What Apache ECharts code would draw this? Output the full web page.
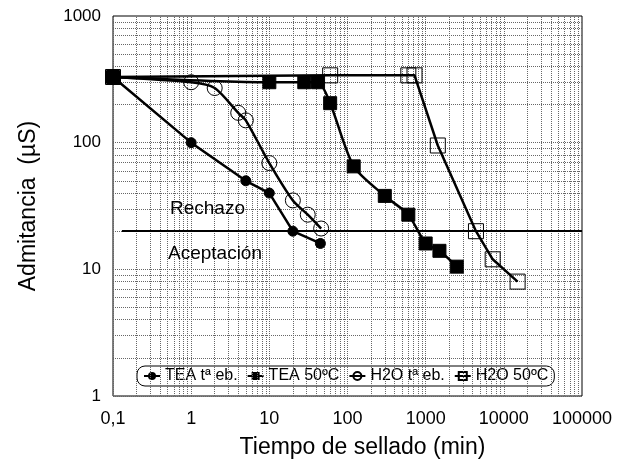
<!DOCTYPE html>
<html>
<head>
<meta charset="utf-8">
<script src="https://cdn.jsdelivr.net/npm/echarts@6/dist/echarts.min.js"></script>
<style>
  html, body { margin: 0; background: #fff; }
  #chart { width: 629px; height: 465px; }
</style>
</head>
<body>
<div id="chart"></div>
<script>
// datos (tiempo en min, admitancia en µS)
const teaAmbX = [0.1, 1, 5, 10, 20, 45];
const teaAmbY = [330, 100, 50, 40, 20, 16];

const tea50X = [0.1, 10, 28, 42, 60, 120, 300, 600, 1000, 1500, 2500];
const tea50Y = [330, 300, 300, 300, 205, 65, 38, 27, 16, 14, 10.5];

const h2oAmbX = [0.1, 1, 2, 4, 5, 10, 20, 31, 46];
const h2oAmbY = [330, 300, 270, 172, 150, 69, 35, 27, 21];

const h2o50X = [0.1, 60, 600, 720, 1430, 4400, 7200, 15000];
const h2o50Y = [330, 340, 340, 340, 95, 20, 12, 8];

const seriesNames = ['TEA tª eb.', 'TEA 50ºC', 'H2O tª eb.', 'H2O 50ºC'];
const limite = 20;
const xTicks = [0.1, 1, 10, 100, 1000, 10000, 100000];
const yTicks = [1, 10, 100, 1000];

const font = 'Liberation Sans, Arial, sans-serif';

const pairs = (xs, ys) => xs.map((x, i) => [x, ys[i]]);

// lineas de rejilla menores (2..9 en cada década)
const gridLines = [];
xTicks.slice(0, -1).forEach(d => {
    for (let k = 1; k <= 9; k++) gridLines.push({ xAxis: d * k });
});
yTicks.slice(0, -1).forEach(d => {
    for (let k = 1; k <= 9; k++) gridLines.push({ yAxis: d * k });
});

const chart = echarts.init(document.getElementById('chart'));

const lineBase = {
    type: 'line',
    z: 5,
    lineStyle: { color: '#000', width: 2.5 },
    itemStyle: { color: '#000', borderColor: '#000' },
    emphasis: { disabled: true }
};

const fmt = v => String(+(+v).toPrecision(6)).replace('.', ',');

chart.setOption({
    animation: false,
    backgroundColor: '#fff',
    textStyle: { fontFamily: font, color: '#000' },
    grid: {
        left: 113, right: 47, top: 16, bottom: 69,
        show: true, borderColor: '#000', borderWidth: 1
    },
    xAxis: {
        type: 'log',
        logBase: 10,
        min: 0.1,
        max: 100000,
        name: 'Tiempo de sellado (min)',
        nameLocation: 'middle',
        nameGap: 40,
        nameTextStyle: { fontSize: 23, color: '#000', fontFamily: font, padding: [0, 0, 0, 30] },
        axisLine: { show: false },
        axisTick: { show: false },
        axisLabel: { fontSize: 18, color: '#000', margin: 14, fontFamily: font, formatter: fmt },
        splitLine: { show: false }
    },
    yAxis: {
        type: 'log',
        logBase: 10,
        min: 1,
        max: 1000,
        name: 'Admitancia  (µS)',
        nameLocation: 'middle',
        nameGap: 73,
        nameTextStyle: { fontSize: 23, color: '#000', fontFamily: font },
        axisLine: { show: false },
        axisTick: { show: false },
        axisLabel: { fontSize: 17, color: '#000', margin: 12, fontFamily: font, formatter: fmt },
        splitLine: { show: false }
    },
    legend: {
        left: 137,
        top: 366,
        padding: [2, 6],
        itemGap: 9,
        itemWidth: 16,
        itemHeight: 10,
        backgroundColor: '#fff',
        borderColor: '#000',
        borderWidth: 1,
        borderRadius: 8,
        textStyle: { fontSize: 16, color: '#000', fontFamily: font },
        data: seriesNames
    },
    graphic: [
        { type: 'text', left: 170, top: 199, z: 10,
          style: { text: 'Rechazo', font: '19px ' + font, fill: '#000' } },
        { type: 'text', left: 168, top: 244, z: 10,
          style: { text: 'Aceptación', font: '19px ' + font, fill: '#000' } }
    ],
    series: [
        {
            // rejilla punteada
            type: 'line',
            data: [],
            z: 1,
            silent: true,
            markLine: {
                silent: true,
                symbol: 'none',
                animation: false,
                label: { show: false },
                lineStyle: { color: '#666', type: 'dotted', width: 1 },
                data: gridLines
            }
        },
        {
            type: 'line',
            data: [],
            z: 4,
            silent: true,
            markLine: {
                silent: true,
                symbol: 'none',
                animation: false,
                label: { show: false },
                lineStyle: { color: '#000', type: 'solid', width: 2 },
                data: [[{ coord: [0.13, limite] }, { coord: [100000, limite] }]]
            }
        },
        Object.assign({}, lineBase, {
            name: seriesNames[0],
            data: pairs(teaAmbX, teaAmbY),
            symbol: 'circle',
            symbolSize: 10
        }),
        Object.assign({}, lineBase, {
            name: seriesNames[1],
            data: pairs(tea50X, tea50Y),
            symbol: 'rect',
            symbolSize: 13,
            smooth: 0.25
        }),
        Object.assign({}, lineBase, {
            name: seriesNames[2],
            data: pairs(h2oAmbX, h2oAmbY),
            symbol: 'circle',
            symbolSize: 15,
            smooth: 0.25,
            itemStyle: { color: 'rgba(0,0,0,0)', borderColor: '#000', borderWidth: 1 }
        }),
        Object.assign({}, lineBase, {
            name: seriesNames[3],
            data: pairs(h2o50X, h2o50Y),
            symbol: 'rect',
            symbolSize: 15,
            itemStyle: { color: 'rgba(0,0,0,0)', borderColor: '#000', borderWidth: 1 }
        })
    ]
});
</script>
</body>
</html>
